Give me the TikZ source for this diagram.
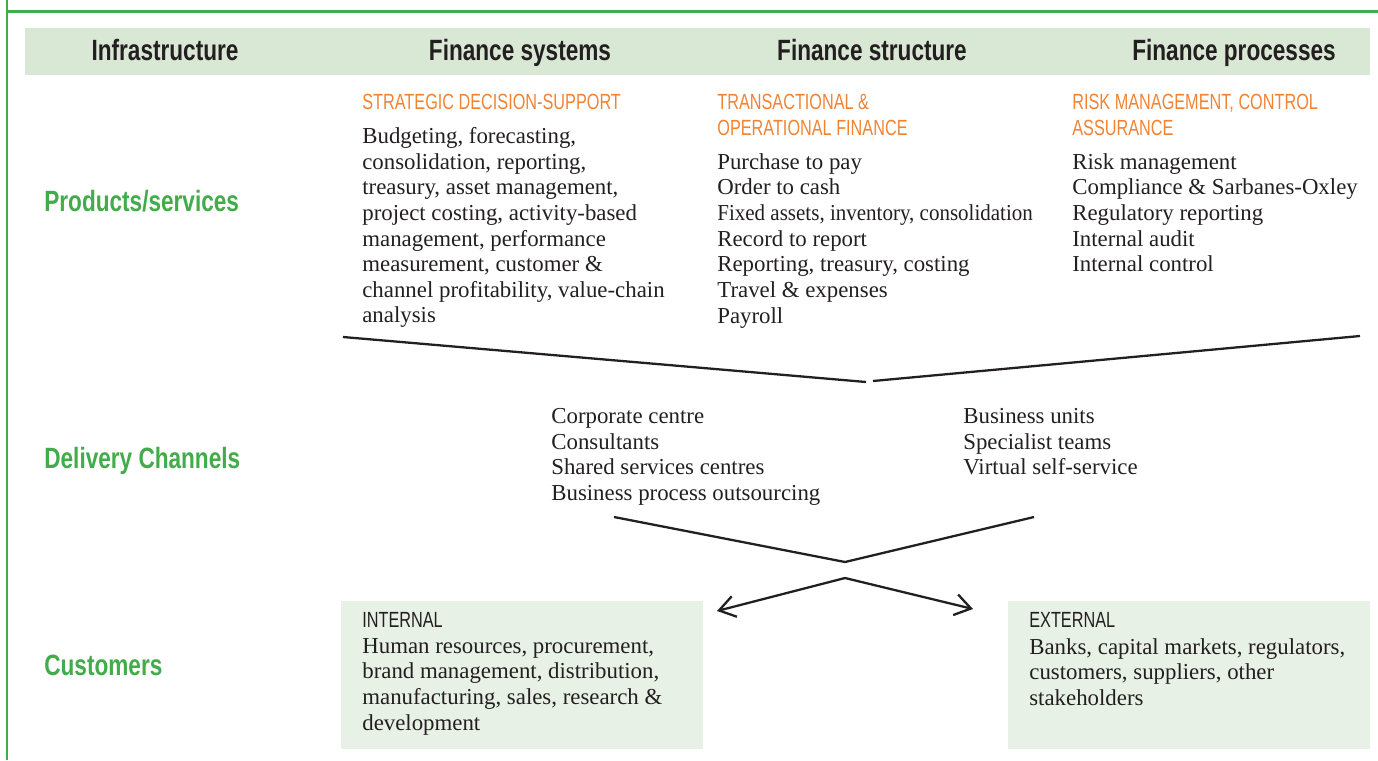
\documentclass[tikz,border=0pt]{standalone}
\usepackage{fontspec}
\setmainfont{Liberation Serif}
\newfontfamily\condfont[FakeStretch=0.77]{Liberation Sans}
\usetikzlibrary{arrows.meta}
\definecolor{framegreen}{RGB}{66,171,74}
\definecolor{barfill}{RGB}{217,232,212}
\definecolor{boxfill}{RGB}{232,241,230}
\definecolor{tagorange}{RGB}{241,131,50}
\definecolor{ink}{RGB}{35,31,32}

\begin{document}
\begin{tikzpicture}[
                x=0.02cm, y=-0.02cm,
                colhead/.style={
                    font=\condfont\bfseries\fontsize{16.7}{20}\selectfont,
                    text=ink,
                    anchor=base,
                    inner sep=0pt
                },
                rowhead/.style={
                    font=\condfont\bfseries\fontsize{16.7}{20}\selectfont,
                    text=framegreen,
                    anchor=base west,
                    inner sep=0pt
                },
                tag/.style={
                    font=\condfont\addfontfeature{FakeStretch=0.74}\fontsize{12.5}{14.6}\selectfont,
                    text=tagorange,
                    anchor=north west,
                    align=left,
                    inner sep=0pt
                },
                body/.style={
                    font=\fontsize{13}{14.6}\selectfont,
                    text=ink,
                    anchor=north west,
                    align=left,
                    inner sep=0pt
                },
                custbox/.style={
                    rectangle,
                    fill=boxfill,
                    anchor=north west,
                    minimum width=7.24cm,
                    minimum height=2.96cm,
                    inner sep=0pt
                },
                vline/.style={draw=ink, line width=1.3pt},
                fanarrow/.style={vline, -{Straight Barb[length=9pt,width=12pt,line width=1.3pt]}}
            ]
                \useasboundingbox (0,0) rectangle (1378,760);

                % frame and heading bar
                \draw[framegreen, line width=1.2pt] (7,0) -- (7,760);
                \draw[framegreen, line width=1.2pt] (7,11.5) -- (1378,11.5);
                \fill[barfill] (25,28) rectangle (1370,75);
                \node[colhead] (hinfra) at (165,60.5) {Infrastructure};
                \node[colhead] (hsys) at (520,60.5) {Finance systems};
                \node[colhead] (hstruct) at (872,60.5) {Finance structure};
                \node[colhead] (hproc) at (1234,60.5) {Finance processes};

                % rows
                \node[rowhead] (rprod) at (44,211.5) {Products/services};
                \node[rowhead] (rdeliv) at (44,468.5) {Delivery Channels};
                \node[rowhead] (rcust) at (44,675.5) {Customers};

                % products and services
                \node[tag] (tstrat) at (362,94) {STRATEGIC DECISION-SUPPORT};
                \node[body] (bstrat) at (362,127) {Budgeting, forecasting,\\consolidation, reporting,\\treasury, asset management,\\project costing, activity-based\\management, performance\\measurement, customer \&\\channel profitability, value-chain\\analysis};
                \node[tag] (ttrans) at (717,94) {TRANSACTIONAL \&\\OPERATIONAL FINANCE};
                \node[body] (btrans) at (717,153) {Purchase to pay\\Order to cash\\{\addfontfeature{FakeStretch=0.92}Fixed assets, inventory, consolidation}\\Record to report\\Reporting, treasury, costing\\Travel \& expenses\\Payroll};
                \node[tag] (trisk) at (1072,94) {RISK MANAGEMENT, CONTROL\\ASSURANCE};
                \node[body] (brisk) at (1072,153) {Risk management\\Compliance \& Sarbanes-Oxley\\Regulatory reporting\\Internal audit\\Internal control};

                % products funnel down
                \coordinate (fa) at (343,337);
                \coordinate (fb) at (866,382);
                \coordinate (fc) at (873,381);
                \coordinate (fd) at (1360,336);
                \draw[vline] (fa) -- (fb);
                \draw[vline] (fc) -- (fd);

                % delivery channels
                \node[body] (dleft) at (551,408) {Corporate centre\\Consultants\\Shared services centres\\Business process outsourcing};
                \node[body] (dright) at (963,408) {Business units\\Specialist teams\\Virtual self-service};

                \coordinate (ga) at (614,517);
                \coordinate (gb) at (845,562);
                \coordinate (gc) at (1034,517);
                \draw[vline] (ga) -- (gb) -- (gc);

                % customers
                \node[custbox] (internal) at (341,601) {};
                \node[custbox] (external) at (1008,601) {};
                \node[tag, text=ink] (tint) at ([xshift=0.42cm,yshift=-0.22cm]internal.north west) {INTERNAL};
                \node[body] (bint) at ([xshift=0.42cm,yshift=-0.74cm]internal.north west) {Human resources, procurement,\\brand management, distribution,\\manufacturing, sales, research \&\\development};
                \node[tag, text=ink] (text) at ([xshift=0.42cm,yshift=-0.22cm]external.north west) {EXTERNAL};
                \node[body] (bext) at ([xshift=0.42cm,yshift=-0.74cm]external.north west) {Banks, capital markets, regulators,\\customers, suppliers, other\\stakeholders};

                \coordinate (split) at (845,578);
                \coordinate (toint) at (717,611);
                \coordinate (toext) at (973,609);
                \draw[fanarrow] (split) -- (toint);
                \draw[fanarrow] (split) -- (toext);
            \end{tikzpicture}
\end{document}
